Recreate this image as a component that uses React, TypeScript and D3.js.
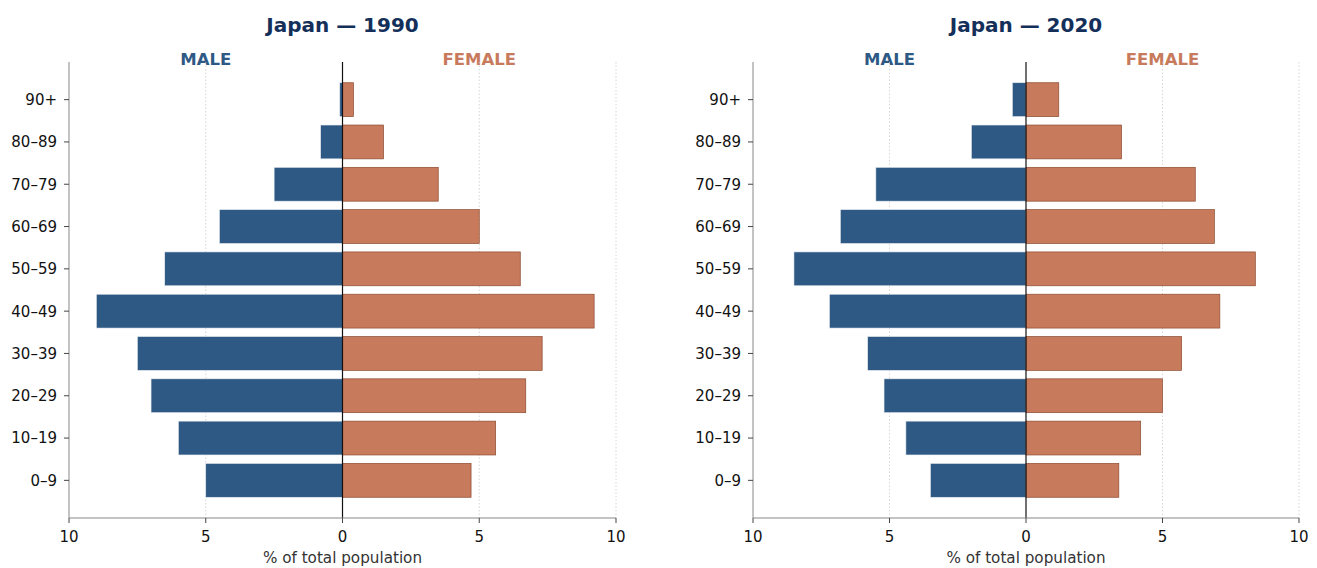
import React from "react";
import * as d3 from "d3";

const ageGroups = ["0–9", "10–19", "20–29", "30–39", "40–49", "50–59", "60–69", "70–79", "80–89", "90+"];
const male1990 = [5.0, 6.0, 7.0, 7.5, 9.0, 6.5, 4.5, 2.5, 0.8, 0.1];
const female1990 = [4.7, 5.6, 6.7, 7.3, 9.2, 6.5, 5.0, 3.5, 1.5, 0.4];
const male2020 = [3.5, 4.4, 5.2, 5.8, 7.2, 8.5, 6.8, 5.5, 2.0, 0.5];
const female2020 = [3.4, 4.2, 5.0, 5.7, 7.1, 8.4, 6.9, 6.2, 3.5, 1.2];
const xTicks = [-10, -5, 0, 5, 10];

const MALE = "#2e5984";
const FEMALE = "#c87a5c";
const FONT = "DejaVu Sans, sans-serif";

type PanelProps = { title: string; male: number[]; female: number[]; x0: number; x1: number };

function Panel({ title, male, female, x0, x1 }: PanelProps) {
  const top = 62;
  const bottom = 518;
  const x = d3.scaleLinear().domain([-10, 10]).range([x0, x1]);
  const y = d3.scaleLinear().domain([-0.89, 9.89]).range([bottom, top]);
  const barH = y(0) - y(0.8);
  const mid = x(0);

  return (
    <g fontFamily={FONT}>
      <text x={mid} y={32} textAnchor="middle" fontSize={20} fontWeight="bold" fill="#14305a">{title}</text>
      <text x={x(-5)} y={65} textAnchor="middle" fontSize={16.5} fontWeight="bold" fill={MALE}>MALE</text>
      <text x={x(5)} y={65} textAnchor="middle" fontSize={16.5} fontWeight="bold" fill={FEMALE}>FEMALE</text>

      {[-5, 5, 10].map((t) => (
        <line key={t} x1={x(t)} x2={x(t)} y1={top} y2={bottom} stroke="#cccccc" strokeWidth={0.8} strokeDasharray="1.5,2" />
      ))}

      {ageGroups.map((g, i) => (
        <g key={g}>
          <rect x={x(-male[i])} y={y(i) - barH / 2} width={mid - x(-male[i])} height={barH}
            fill={MALE} stroke="#e8ecf0" strokeWidth={0.6} />
          <rect x={mid} y={y(i) - barH / 2} width={x(female[i]) - mid} height={barH}
            fill={FEMALE} stroke="#8c4a30" strokeWidth={0.7} />
        </g>
      ))}

      <line x1={mid} x2={mid} y1={top} y2={bottom} stroke="#111" strokeWidth={1.2} />

      {/* spines */}
      <line x1={x0} x2={x0} y1={top} y2={bottom} stroke="#888" strokeWidth={1} />
      <line x1={x0} x2={x1} y1={bottom} y2={bottom} stroke="#888" strokeWidth={1} />

      {ageGroups.map((g, i) => (
        <g key={g} transform={`translate(${x0},${y(i)})`}>
          <line x1={-5} x2={0} stroke="#444" strokeWidth={1} />
          <text x={-12} dy="0.36em" textAnchor="end" fontSize={15} fill="#111">{g}</text>
        </g>
      ))}

      {xTicks.map((t) => (
        <g key={t} transform={`translate(${x(t)},${bottom})`}>
          <line y1={0} y2={5} stroke="#444" strokeWidth={1} />
          <text y={24} textAnchor="middle" fontSize={15} fill="#111">{Math.abs(t)}</text>
        </g>
      ))}

      <text x={mid} y={563} textAnchor="middle" fontSize={15.2} fill="#333">% of total population</text>
    </g>
  );
}

export default function App() {
  return (
    <svg width={1317} height={568} style={{ position: "absolute", left: 0, top: 0, background: "#fff" }}>
      <Panel title="Japan — 1990" male={male1990} female={female1990} x0={69} x1={616} />
      <Panel title="Japan — 2020" male={male2020} female={female2020} x0={753} x1={1299} />
    </svg>
  );
}
